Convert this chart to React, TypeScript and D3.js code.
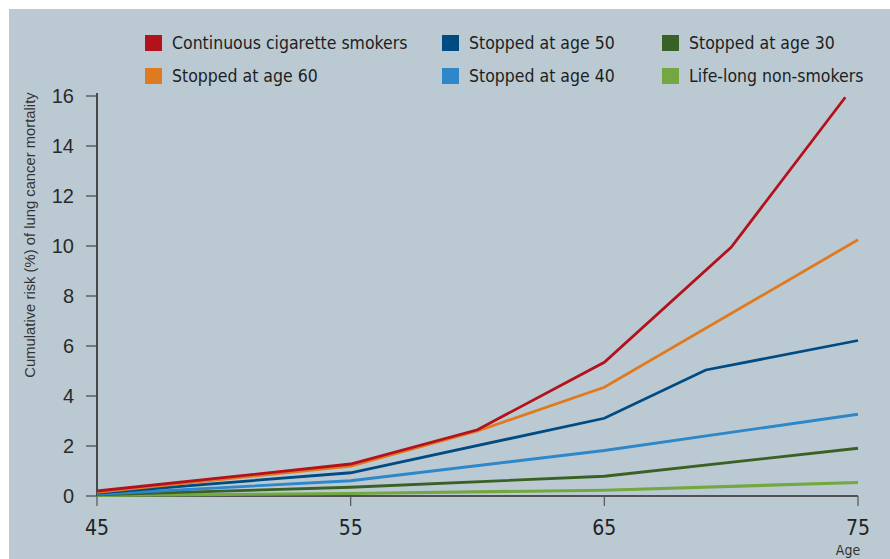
import React from "react";
import * as d3 from "d3";

type Series = { name: string; color: string; points: [number, number][] };

const continuousSmokers: [number, number][] = [[45, 0.2], [55, 1.28], [60, 2.65], [65, 5.35], [70, 9.95], [74.5, 15.95]];
const stopped60: [number, number][] = [[45, 0.15], [55, 1.2], [60, 2.6], [65, 4.35], [75, 10.25]];
const stopped50: [number, number][] = [[45, 0.12], [55, 0.93], [65, 3.11], [69, 5.04], [75, 6.22]];
const stopped40: [number, number][] = [[45, 0.07], [55, 0.61], [65, 1.82], [75, 3.27]];
const stopped30: [number, number][] = [[45, 0.05], [55, 0.35], [65, 0.79], [75, 1.91]];
const nonSmokers: [number, number][] = [[45, 0.02], [55, 0.1], [65, 0.23], [75, 0.54]];

const legendNames = [
  "Continuous cigarette smokers",
  "Stopped at age 60",
  "Stopped at age 50",
  "Stopped at age 40",
  "Stopped at age 30",
  "Life-long non-smokers",
];
const colors = ["#b3111c", "#e07a21", "#014b83", "#2d87c8", "#3a6125", "#73a840"];
const seriesData = [continuousSmokers, stopped60, stopped50, stopped40, stopped30, nonSmokers];

const yTicks = [0, 2, 4, 6, 8, 10, 12, 14, 16];
const xTicks = [45, 55, 65, 75];

const W = 890;
const H = 559;
const plot = { left: 97, right: 858, top: 96, bottom: 496 };
const condensed = "'Liberation Sans Narrow', 'DejaVu Sans Condensed', 'Roboto', sans-serif";

export default function App() {
  const x = d3.scaleLinear().domain([45, 75]).range([plot.left, plot.right]);
  const y = d3.scaleLinear().domain([0, 16]).range([plot.bottom, plot.top]);
  const line = d3.line<[number, number]>().x((d) => x(d[0])).y((d) => y(d[1]));

  const series: Series[] = seriesData.map((p, i) => ({ name: legendNames[i], color: colors[i], points: p }));
  const drawOrder = [5, 4, 3, 2, 1, 0];

  const legendCols = [145, 442, 662];
  const legendRows = [43, 76];

  return (
    <svg width={W} height={H} style={{ position: "absolute", left: 0, top: 0 }}>
      <rect x={0} y={0} width={W} height={H} fill="#ffffff" />
      <rect x={9} y={9} width={W - 9} height={H - 9} fill="#bbcad2" />

      {series.map((s, i) => {
        const col = Math.floor(i / 2);
        const row = i % 2;
        const lx = legendCols[col];
        const ly = legendRows[row];
        return (
          <g key={s.name}>
            <rect x={lx} y={ly - 8} width={17} height={16} fill={s.color} />
            <text x={lx + 27} y={ly + 6} fontFamily={condensed} fontSize={17.5} fill="#1e1e1e">
              {s.name}
            </text>
          </g>
        );
      })}

      <line x1={plot.left} x2={plot.left} y1={y(16) - 3} y2={plot.bottom} stroke="#2a2a2a" strokeWidth={1.6} />
      {yTicks.map((t) => (
        <g key={t}>
          <line x1={86} x2={plot.left} y1={y(t)} y2={y(t)} stroke="#444" strokeWidth={1.2} />
          <text x={74} y={y(t) + 7} textAnchor="end" fontFamily="'Liberation Sans', Arial, sans-serif" fontSize={20} fill="#2a2a2a">
            {t}
          </text>
        </g>
      ))}
      <text
        transform={`translate(35, 235) rotate(-90)`}
        textAnchor="middle"
        fontFamily="'Liberation Sans', Arial, sans-serif"
        fontSize={14.8}
        fill="#333"
      >
        Cumulative risk (%) of lung cancer mortality
      </text>

      <line x1={plot.left} x2={plot.right} y1={plot.bottom} y2={plot.bottom} stroke="#2a2a2a" strokeWidth={1.6} />
      {xTicks.map((t) => (
        <g key={t}>
          <line x1={x(t)} x2={x(t)} y1={plot.bottom} y2={plot.bottom + 10} stroke="#555" strokeWidth={1.2} />
          <text x={x(t)} y={535} textAnchor="middle" fontFamily={condensed} fontSize={21} fill="#222">
            {t}
          </text>
        </g>
      ))}
      <text x={x(75) - 10} y={555} textAnchor="middle" fontFamily={condensed} fontSize={14} fill="#333">
        Age
      </text>

      {drawOrder.map((i) => (
        <path
          key={series[i].name}
          d={line(series[i].points) || ""}
          fill="none"
          stroke={series[i].color}
          strokeWidth={i === 5 ? 3.2 : 2.8}
          strokeLinejoin="miter"
        />
      ))}
    </svg>
  );
}
